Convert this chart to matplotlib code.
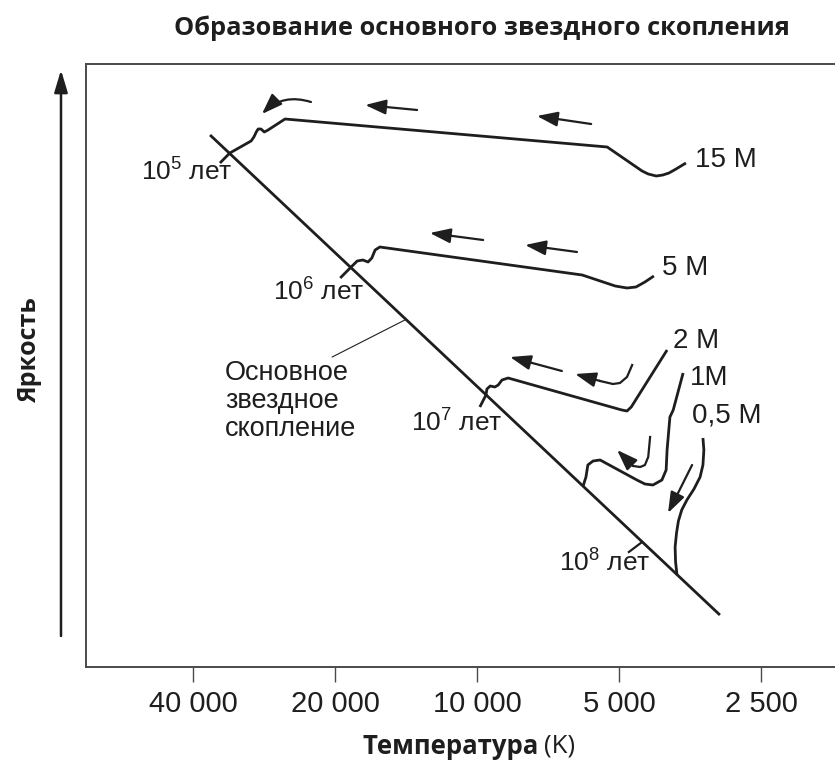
import numpy as np
import matplotlib
matplotlib.use("Agg")
import matplotlib.pyplot as plt
from matplotlib.patches import FancyArrowPatch

plt.rcParams['mathtext.fontset'] = 'custom'
plt.rcParams['mathtext.rm'] = 'Liberation Sans'
plt.rcParams['mathtext.it'] = 'Liberation Sans:italic'
plt.rcParams['mathtext.bf'] = 'Liberation Sans:bold'
plt.rcParams['font.family'] = ['Liberation Sans', 'DejaVu Sans']

# ---------------- data (x = log10 T, y = log luminosity, arbitrary units) --------------
temp_ticks = [40000, 20000, 10000, 5000, 2500]
tick_labels = ['40 000', '20 000', '10 000', '5 000', '2 500']

ms_logT = [4.566, 3.485]
ms_logL = [5.32, 0.52]

t15_logT = [3.557, 3.578, 3.593, 3.606, 3.620, 3.637, 3.650, 3.724, 4.407, 4.443,
            4.451, 4.458, 4.464, 4.468, 4.473, 4.479, 4.524, 4.545]
t15_logL = [5.04, 4.98, 4.94, 4.92, 4.91, 4.93, 4.96, 5.20, 5.48, 5.37,
            5.35, 5.38, 5.38, 5.35, 5.30, 5.26, 5.14, 5.04]

t5_logT = [3.625, 3.644, 3.663, 3.682, 3.707, 3.777, 4.206, 4.216, 4.223, 4.231,
           4.242, 4.254, 4.269, 4.290]
t5_logL = [3.91, 3.85, 3.80, 3.79, 3.81, 3.92, 4.20, 4.17, 4.09, 4.05,
           4.07, 4.06, 3.99, 3.89]

t2_logT = [3.597, 3.673, 3.682, 3.693, 3.934, 3.947, 3.955, 3.962, 3.972, 3.979, 3.981, 3.994]
t2_logL = [3.17, 2.60, 2.56, 2.57, 2.89, 2.87, 2.82, 2.80, 2.81, 2.78, 2.72, 2.60]

t1_logT = [3.563, 3.584, 3.591, 3.597, 3.599, 3.608, 3.627, 3.644, 3.661, 3.739,
           3.754, 3.765, 3.769, 3.775]
t1_logL = [2.94, 2.57, 2.50, 2.17, 1.97, 1.87, 1.82, 1.83, 1.87, 2.07,
           2.06, 2.02, 1.90, 1.81]

t05_logT = [3.521, 3.519, 3.521, 3.527, 3.540, 3.555, 3.566, 3.573, 3.577, 3.580, 3.579, 3.576]
t05_logL = [2.29, 2.17, 2.02, 1.90, 1.78, 1.67, 1.57, 1.46, 1.34, 1.20, 1.05, 0.92]

# straight arrows: (tail logT, tail logL, head logT, head logL)
arrows_straight = [
    (4.127, 5.57, 4.237, 5.62),
    (3.758, 5.43, 3.873, 5.51),
    (3.987, 4.27, 4.100, 4.34),
    (3.788, 4.15, 3.898, 4.22),
    (3.820, 2.96, 3.930, 3.10),
    (3.544, 2.02, 3.595, 1.54),
]
# curved arrow (15 M)
arc15 = (4.352, 5.65, 4.456, 5.53)
# curved arrows drawn as paths ending with a head
c2_logT = [3.671, 3.682, 3.697, 3.712, 3.739, 3.792]
c2_logL = [3.02, 2.90, 2.84, 2.83, 2.86, 2.93]
c1_logT = [3.633, 3.637, 3.644, 3.654, 3.669, 3.703]
c1_logL = [2.30, 2.10, 2.02, 2.00, 2.01, 2.17]

tick8_logT = [3.650, 3.678]
tick8_logL = [1.25, 1.15]

leader_logT = [4.307, 4.153]
leader_logL = [3.10, 3.47]

mass_labels = ['15 M', '5 M', '2 M', '1M', '0,5 M']
mass_logT = [3.538, 3.608, 3.584, 3.548, 3.544]
mass_logL = [5.07, 3.99, 3.26, 2.89, 2.51]

age_labels = [r'$\mathregular{10^5}$ лет', r'$\mathregular{10^6}$ лет',
              r'$\mathregular{10^7}$ лет', r'$\mathregular{10^8}$ лет']
age_logT = [4.615, 4.335, 4.042, 3.729]
age_logL = [4.95, 3.75, 2.44, 1.04]

# ---------------- figure ----------------
ink = '#1e1e1e'
fig = plt.figure(figsize=(8.35, 7.62), dpi=100)
ax = fig.add_axes([86/835, (762-667)/762, (835-86)/835, (667-64)/762])
ax.set_xlim(4.829, 3.241)
ax.set_ylim(0, 6.03)
ax.spines['right'].set_visible(False)
for s in ['left', 'top', 'bottom']:
    ax.spines[s].set_color('#4a4a4a')
    ax.spines[s].set_linewidth(1.4)
ax.set_yticks([])
ax.set_xticks(np.log10(temp_ticks))
ax.set_xticklabels(tick_labels)
ax.tick_params(axis='x', direction='out', length=10.8, width=1.0, color='#4a4a4a',
               pad=6, labelsize=21, labelcolor=ink)

lw = 2.0
kw = dict(color=ink, lw=lw, solid_joinstyle='round', solid_capstyle='butt')
ax.plot(ms_logT, ms_logL, **kw)
for xs, ys in [(t15_logT, t15_logL), (t5_logT, t5_logL), (t2_logT, t2_logL),
               (t1_logT, t1_logL), (t05_logT, t05_logL)]:
    ax.plot(xs, ys, **kw)
ax.plot(tick8_logT, tick8_logL, color=ink, lw=1.6)
ax.plot(leader_logT, leader_logL, color=ink, lw=0.8)

astyle = '-|>,head_length=1.4,head_width=0.5'
for x0, y0, x1, y1 in arrows_straight:
    ax.annotate('', xy=(x1, y1), xytext=(x0, y0),
                arrowprops=dict(arrowstyle=astyle, color=ink, lw=1.6,
                                mutation_scale=9, shrinkA=0, shrinkB=0))
x0, y0, x1, y1 = arc15
ax.annotate('', xy=(x1, y1), xytext=(x0, y0),
            arrowprops=dict(arrowstyle=astyle, color=ink, lw=1.6, mutation_scale=9,
                            shrinkA=0, shrinkB=0, connectionstyle='arc3,rad=0.3'))
for xs, ys in [(c2_logT, c2_logL), (c1_logT, c1_logL)]:
    ax.plot(xs[:-1], ys[:-1], color=ink, lw=1.6, solid_joinstyle='round')
    ax.annotate('', xy=(xs[-1], ys[-1]), xytext=(xs[-2], ys[-2]),
                arrowprops=dict(arrowstyle=astyle, color=ink, lw=1.6,
                                mutation_scale=9, shrinkA=0, shrinkB=0))

for t, x, y in zip(mass_labels, mass_logT, mass_logL):
    ax.text(x, y, t, ha='left', va='center', fontsize=20, color=ink)
for t, x, y in zip(age_labels, age_logT, age_logL):
    ax.text(x, y, t, ha='center', va='center', fontsize=19, color=ink)
ax.text(4.534, 2.66, 'Основное\nзвездное\nскопление', ha='left', va='center',
        fontsize=19.5, color=ink, linespacing=1.12)

# titles
fig.text(482/835, 1-28/762, 'Образование основного звездного скопления',
         ha='center', va='center', fontsize=18.3, fontweight='bold',
         family=['Open Sans', 'DejaVu Sans'], color=ink)
fig.text(30/835, 1-350/762, 'Яркость', rotation=90, ha='center', va='center',
         fontsize=18, fontweight='bold', family=['Open Sans', 'DejaVu Sans'], color=ink)
fig.text(539/835, 1-746/762, 'Температура', ha='right', va='center',
         fontsize=18.5, fontweight='bold', family=['Open Sans', 'DejaVu Sans'], color=ink)
fig.text(544/835, 1-746/762, '(K)', ha='left', va='center',
         fontsize=18.5, family=['Open Sans', 'DejaVu Sans'], color=ink)

fig.add_artist(FancyArrowPatch((61/835, 1-636/762), (61/835, 1-70/762),
                               transform=fig.transFigure,
                               arrowstyle='-|>,head_length=1.5,head_width=0.45',
                               mutation_scale=9, color=ink, lw=1.8,
                               shrinkA=0, shrinkB=0))

fig.savefig('out.png', dpi=100)
